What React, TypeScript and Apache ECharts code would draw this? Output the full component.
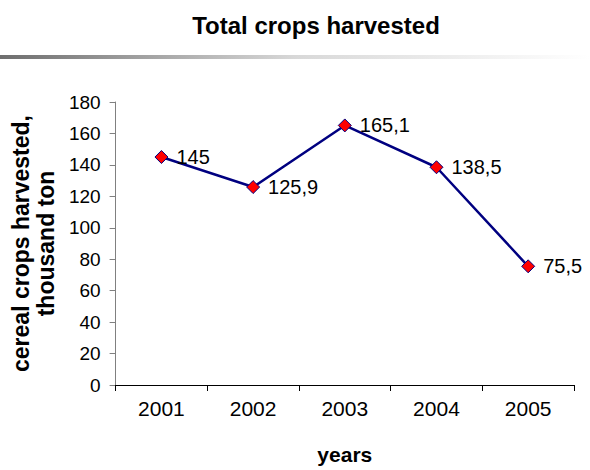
import React, { useEffect, useRef } from "react";
import * as echarts from "echarts";

const years = ["2001", "2002", "2003", "2004", "2005"];
const harvested = [145, 125.9, 165.1, 138.5, 75.5];
const titleText = "Total crops harvested";
const yAxisName = "cereal crops harvested,\nthousand ton";
const xAxisName = "years";

export default function App() {
  const ref = useRef<HTMLDivElement>(null);
  useEffect(() => {
    const chart = echarts.init(ref.current!, null, { renderer: "svg" });
    const font = "Liberation Sans, Arial, sans-serif";
    chart.setOption({
      animation: false,
      backgroundColor: "#ffffff",
      textStyle: { fontFamily: font },
      title: {
        text: titleText,
        left: 311,
        top: 8,
        textAlign: "center",
        textStyle: { fontSize: 24, fontWeight: "bold", color: "#000", fontFamily: font },
      },
      graphic: [
        {
          type: "rect",
          shape: { x: 0, y: 55, width: 590, height: 4 },
          style: {
            fill: new echarts.graphic.LinearGradient(0, 0, 1, 0, [
              { offset: 0, color: "#6e6e6e" },
              { offset: 0.5, color: "#d8d8d8" },
              { offset: 1, color: "#ffffff" },
            ]),
          },
          silent: true,
        },
      ],
      grid: { left: 113, right: 16, top: 102, bottom: 83 },
      xAxis: {
        type: "category",
        data: years,
        boundaryGap: true,
        name: xAxisName,
        nameLocation: "middle",
        nameGap: 59,
        nameTextStyle: { fontSize: 21, fontWeight: "bold", color: "#000", fontFamily: font },
        axisLine: { lineStyle: { color: "#000", width: 1 } },
        axisTick: { show: true, alignWithLabel: false, length: 6, lineStyle: { color: "#000" } },
        axisLabel: { fontSize: 21, color: "#000", margin: 13, fontFamily: font },
        splitLine: { show: false },
      },
      yAxis: {
        type: "value",
        min: 0,
        max: 180,
        interval: 20,
        name: yAxisName,
        nameLocation: "middle",
        nameGap: 46,
        nameRotate: 90,
        nameTextStyle: { fontSize: 23, fontWeight: "bold", color: "#000", lineHeight: 25, fontFamily: font },
        axisLine: { show: true, lineStyle: { color: "#808080", width: 1 } },
        axisTick: { show: true, length: 6, lineStyle: { color: "#808080" } },
        axisLabel: { fontSize: 19, color: "#000", margin: 15, fontFamily: font },
        splitLine: { show: false },
      },
      series: [
        {
          type: "line",
          data: harvested,
          symbol: "diamond",
          symbolSize: 13,
          lineStyle: { color: "#000080", width: 2.5 },
          itemStyle: { color: "#ff0000", borderColor: "#000080", borderWidth: 1 },
          label: {
            show: true,
            position: "right",
            distance: 8,
            fontSize: 20,
            color: "#000",
            fontFamily: font,
            formatter: (p: any) => String(p.value).replace(".", ","),
          },
        },
      ],
    });
    return () => chart.dispose();
  }, []);
  return <div ref={ref} style={{ width: 590, height: 470, position: "absolute", left: 0, top: 0 }} />;
}
